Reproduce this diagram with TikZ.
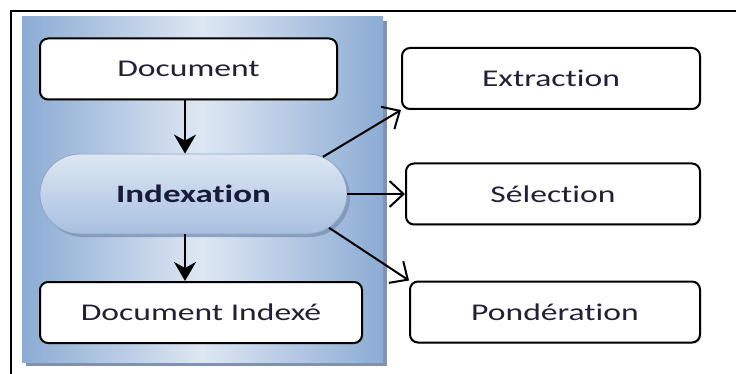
\documentclass[tikz,border=0pt]{standalone}
\usepackage{xcolor}
\usepackage{fontspec}
\usepackage{tikz}
\usetikzlibrary{
	positioning,
	calc,
	arrows.meta,
	shadows,
	shapes.misc
}
\setmainfont{Carlito}[FakeStretch=1.4,Ligatures=NoCommon]

\definecolor{panelDark}{RGB}{140,172,212}
\definecolor{panelLight}{RGB}{222,231,243}
\definecolor{panelShadow}{RGB}{128,146,176}
\definecolor{capsTop}{RGB}{222,231,243}
\definecolor{capsBottom}{RGB}{168,192,224}
\definecolor{capsEdge}{RGB}{140,165,200}
\definecolor{textInk}{RGB}{34,32,52}
\definecolor{textNavy}{RGB}{24,28,58}

\begin{document}
\begin{tikzpicture}[
	x=1pt, y=-1pt,
	c_box/.style={
		draw=black,
		fill=white,
		line width=2pt,
		rounded corners=8pt,
		minimum height=61pt,
		inner sep=0pt,
		text=textInk,
		font=\fontsize{24}{28}\selectfont,
		drop shadow={shadow xshift=1.2pt,shadow yshift=-1.2pt,opacity=0.4}
	},
	c_caps/.style={
		rounded rectangle,
		draw=capsEdge,
		line width=0.8pt,
		top color=capsTop,
		bottom color=capsBottom,
		minimum width=307pt,
		minimum height=80pt,
		inner sep=0pt,
		text=textNavy,
		font=\fontsize{25}{29}\selectfont\bfseries,
		drop shadow={shadow xshift=3pt,shadow yshift=-3pt,fill=panelShadow,opacity=0.8}
	},
	c_down/.style={
		line width=2pt,
		-{Stealth[length=19pt,width=22pt,inset=6pt]}
	},
	c_out/.style={
		line width=2pt,
		-{Straight Barb[length=14pt,width=26pt,line width=2pt]}
	}
	]
	
	\useasboundingbox (0,0) rectangle (736,374);
	
	% =========================================================================
	% OUTER FRAME
	% =========================================================================
	
	\begin{scope}
		\clip (0,0) rectangle (736,374);
		\draw[black,line width=2pt]
		(11,11) rectangle (760,400);
	\end{scope}
	
	% =========================================================================
	% BLUE PANEL
	% =========================================================================
	
	\fill[panelShadow]
	(26,21) rectangle (387,366);
	
	\shade[left color=panelDark,right color=panelDark,middle color=panelLight]
	(22,17) rectangle (383,362);
	
	% =========================================================================
	% LEFT COLUMN
	% =========================================================================
	
	\node[c_box,minimum width=297pt] (doc) at (188.5,69) {Document};
	
	\node[c_caps] (idx) at (193.5,194) {Indexation};
	
	\node[c_box,minimum width=322pt] (docidx) at (201,312.5) {Document Indexé};
	
	\draw[c_down] (doc.south -| 185,0) -- (idx.north -| 185,0);
	\draw[c_down] (idx.south -| 185,0) -- (docidx.north -| 185,0);
	
	% =========================================================================
	% RIGHT COLUMN
	% =========================================================================
	
	\node[c_box,minimum width=298pt] (ext) at (551,78.5) {Extraction};
	\node[c_box,minimum width=294pt] (sel) at (553,194) {Sélection};
	\node[c_box,minimum width=290pt] (pon) at (555,312) {Pondération};
	
	\draw[c_out] (idx.16) -- (ext.south west);
	\draw[c_out] (idx.east) -- (sel.west);
	\draw[c_out] (idx.-14) -- (pon.north west);
	
\end{tikzpicture}
\end{document}
